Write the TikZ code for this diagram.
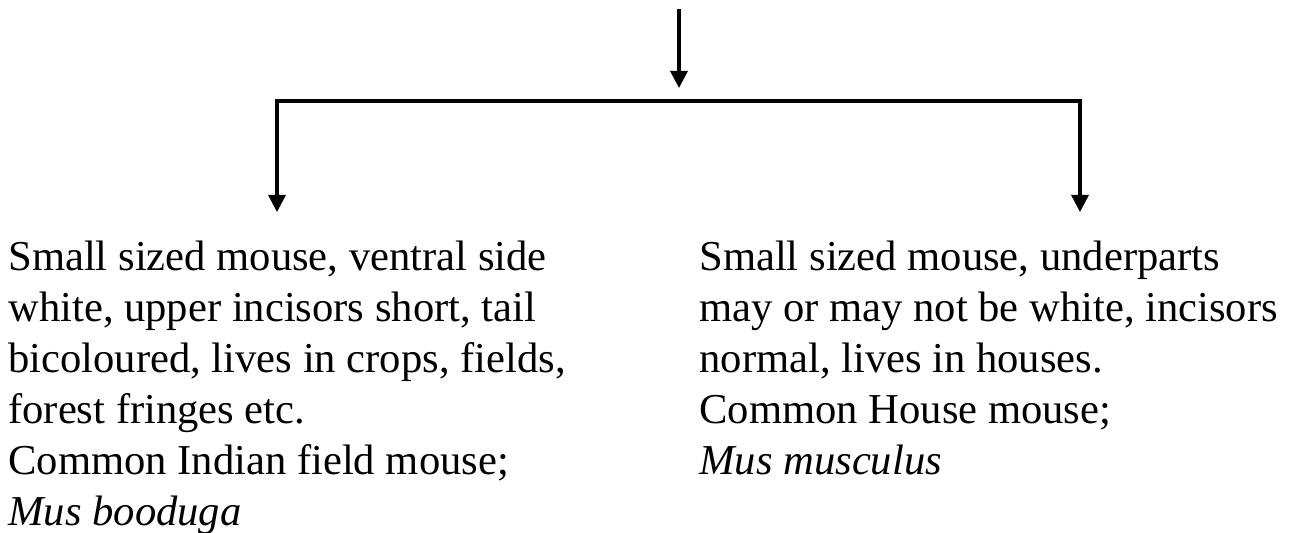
\documentclass[tikz,border=0pt]{standalone}
\usepackage{fontspec}
\setmainfont{Liberation Serif}
\usetikzlibrary{arrows.meta}
\begin{document}
\begin{tikzpicture}[x=0.5pt, y=-0.5pt,
  keyhead/.tip={Triangle[length=8.5pt, width=8.5pt]},
  link/.style={line width=1.7pt, line join=miter},
  desc/.style={anchor=north west, inner sep=0pt, align=left,
    font=\fontsize{21.3}{25.5}\selectfont}]
\useasboundingbox (0,0) rectangle (1295,533);

% branch points of the key
\coordinate (src) at (679,9);
\coordinate (hub) at (679,88);
\coordinate (lc) at (277,101);
\coordinate (rc) at (1080,101);
\coordinate (lt) at (277,212);
\coordinate (rt) at (1080,212);

% the two alternatives
\node[desc] (field) at (8,240.5) {Small sized mouse, ventral side\\
  white, upper incisors short, tail\\
  bicoloured, lives in crops, fields,\\
  forest fringes etc.\\
  Common Indian field mouse;\\
  \textit{Mus booduga}};
\node[desc] (house) at (699,240.5) {Small sized mouse, underparts\\
  may or may not be white, incisors\\
  normal, lives in houses.\\
  Common House mouse;\\
  \textit{Mus musculus}};

% connectors
\draw[link, -keyhead] (src) -- (hub);
\draw[link, keyhead-keyhead] (lt) -- (lc) -- (rc) -- (rt);
\end{tikzpicture}
\end{document}
